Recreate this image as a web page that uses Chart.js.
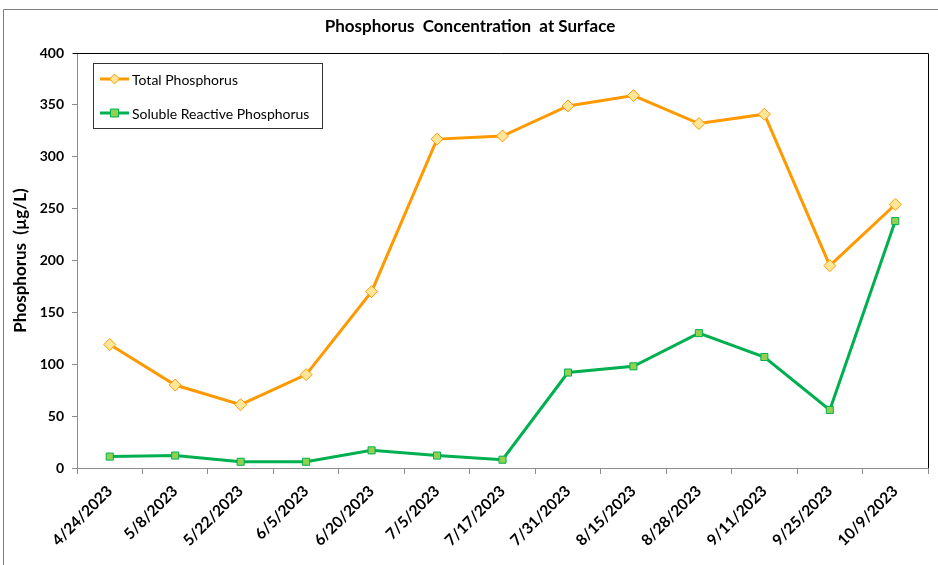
<!DOCTYPE html>
<html>
<head>
<meta charset="utf-8">
<script src="https://cdn.jsdelivr.net/npm/chart.js@4"></script>
<style>
  body { margin: 0; background: #fff; }
  #wrap { width: 938px; height: 565px; position: relative; }
</style>
</head>
<body>
<div id="wrap"><canvas id="chart" width="938" height="565"></canvas></div>
<script>
const dates = ["4/24/2023", "5/8/2023", "5/22/2023", "6/5/2023", "6/20/2023", "7/5/2023", "7/17/2023",
  "7/31/2023", "8/15/2023", "8/28/2023", "9/11/2023", "9/25/2023", "10/9/2023"];
const totalP = [119, 80, 61, 90, 170, 317, 320, 349, 359, 332, 341, 195, 254];
const solubleP = [11, 12, 6, 6, 17, 12, 8, 92, 98, 130, 107, 56, 238];
const yTicks = [0, 50, 100, 150, 200, 250, 300, 350, 400];

const FONT = "Lato, 'Open Sans', sans-serif";

// Border, title, plot frame and the boxed legend inside the plot
const decorPlugin = {
  id: "decor",
  afterDraw(chart) {
    const c = chart.ctx;
    const a = chart.chartArea;
    c.save();
    // outer frame (only left and top visible in the crop)
    c.strokeStyle = "#7f7f7f";
    c.lineWidth = 1;
    c.beginPath();
    c.moveTo(3.5, 565);
    c.lineTo(3.5, 9.5);
    c.lineTo(938, 9.5);
    c.stroke();

    // plot area top and right edges
    c.strokeStyle = "#000";
    c.beginPath();
    c.moveTo(a.left - 4, Math.round(a.top) + 0.5);
    c.lineTo(Math.round(a.right) + 0.5, Math.round(a.top) + 0.5);
    c.lineTo(Math.round(a.right) + 0.5, a.bottom);
    c.stroke();

    c.fillStyle = "#000";
    c.font = "bold 17px " + FONT;
    c.textAlign = "center";
    c.textBaseline = "middle";
    c.fillText("Phosphorus  Concentration  at Surface", 470, 27);

    // legend
    c.strokeStyle = "#333";
    c.strokeRect(93.5, 63.5, 229, 65);
    c.font = "14px " + FONT;
    c.textAlign = "left";
    const rows = [79, 113];
    chart.data.datasets.forEach((ds, i) => {
      const y = rows[i];
      c.strokeStyle = ds.borderColor;
      c.lineWidth = 3;
      c.beginPath();
      c.moveTo(100, y);
      c.lineTo(129, y);
      c.stroke();
      c.fillStyle = ds.pointBackgroundColor;
      c.strokeStyle = ds.pointBorderColor;
      c.lineWidth = 1;
      c.beginPath();
      if (ds.pointStyle === "rectRot") {
        c.moveTo(114.5, y - 5);
        c.lineTo(119.5, y);
        c.lineTo(114.5, y + 5);
        c.lineTo(109.5, y);
        c.closePath();
      } else {
        c.rect(110.5, y - 4, 8, 8);
      }
      c.fill();
      c.stroke();
      c.fillStyle = "#000";
      c.fillText(ds.label, 132, y + 1);
    });
    c.restore();
  }
};

new Chart(document.getElementById("chart"), {
  type: "line",
  data: {
    labels: dates,
    datasets: [
      {
        label: "Total Phosphorus",
        data: totalP,
        borderColor: "#ff9900",
        borderWidth: 3,
        pointStyle: "rectRot",
        pointRadius: 6,
        pointBackgroundColor: "#ffe699",
        pointBorderColor: "#ff9900",
        pointBorderWidth: 1,
        tension: 0,
      },
      {
        label: "Soluble Reactive Phosphorus",
        data: solubleP,
        borderColor: "#00b050",
        borderWidth: 3,
        pointStyle: "rect",
        pointRadius: 5,
        pointBackgroundColor: "#92d050",
        pointBorderColor: "#00b050",
        pointBorderWidth: 1,
        tension: 0,
      },
    ],
  },
  options: {
    responsive: false,
    animation: false,
    devicePixelRatio: 1,
    layout: { padding: { top: 53, right: 10, left: 0, bottom: 0 } },
    plugins: {
      legend: { display: false },
      title: { display: false },
      tooltip: { enabled: false },
    },
    scales: {
      x: {
        offset: true,
        grid: { offset: true, drawOnChartArea: false, tickLength: 6, color: "#8c8c8c" },
        border: { color: "#8c8c8c" },
        ticks: {
          color: "#000",
          font: { family: FONT, size: 15.5, weight: "bold" },
          minRotation: 45,
          maxRotation: 45,
          autoSkip: false,
          padding: 8,
        },
        afterFit(scale) { scale.height = 97; },
      },
      y: {
        min: 0,
        max: 400,
        afterBuildTicks(scale) { scale.ticks = yTicks.map(v => ({ value: v })); },
        grid: { drawOnChartArea: false, tickLength: 5, color: "#8c8c8c" },
        border: { color: "#8c8c8c" },
        ticks: {
          color: "#000",
          font: { family: FONT, size: 14, weight: "bold" },
          padding: 8,
        },
        title: {
          display: true,
          text: "Phosphorus  (µg/L)",
          color: "#000",
          font: { family: FONT, size: 17, weight: "bold" },
          padding: { top: 10, bottom: 0 },
        },
        afterFit(scale) { scale.width = 77; },
      },
    },
  },
  plugins: [decorPlugin],
});
</script>
</body>
</html>
